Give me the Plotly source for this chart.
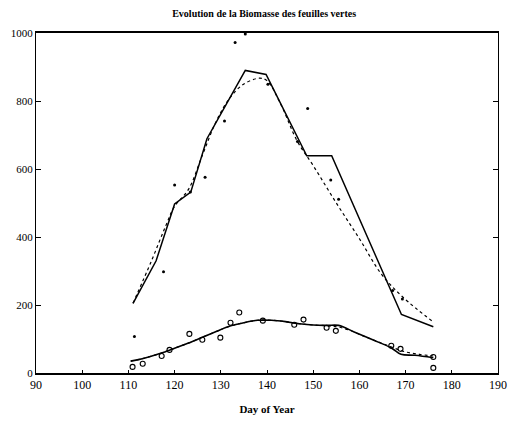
import plotly.graph_objects as go

# Upper series (green leaf biomass, large values)
up_line_day = [111, 116, 120, 123.5, 127, 135.3, 139.8, 148.6, 154, 169.1, 176]
up_line_val = [205, 330, 497, 532, 689, 890, 878, 639, 639, 172, 136]

up_smooth_day = [111, 115, 118, 120, 123, 126, 129, 132, 135, 138.3, 140, 143, 146.5, 150, 155, 160, 164.8, 169.5, 176]
up_smooth_val = [205, 330, 430, 490, 540, 640, 740, 810, 850, 867, 860, 790, 683, 610, 500, 395, 290, 222, 150]

up_obs_day = [111.3, 117.6, 120, 123.4, 126.6, 130.8, 133.1, 135.3, 140.2, 146.6, 148.8, 153.8, 155.5, 167.2, 169.3]
up_obs_val = [107, 298, 553, 532, 576, 741, 972, 997, 849, 681, 778, 568, 511, 243, 218]

# Lower series
low_line_day = [110.5, 113, 117, 120, 123, 126, 129, 132, 135, 138, 141, 144, 147, 150, 153, 155.5, 159, 163, 167, 169, 172, 176]
low_line_val = [35, 42, 58, 73, 88, 105, 122, 138, 148, 155, 155, 151, 145, 141, 140, 140, 120, 97, 73, 55, 52, 45]

low_smooth_day = [110.5, 113, 117, 120, 123, 126, 129, 132, 135, 138, 141, 144, 147, 150, 153, 155.5, 158, 161, 164, 167, 170, 173, 176]
low_smooth_val = [35, 42, 58, 73, 88, 105, 122, 138, 148, 155, 155, 151, 145, 141, 139, 135, 125, 108, 92, 76, 62, 55, 50]

low_obs_day = [110.9, 113.1, 117.2, 118.9, 123.2, 126, 129.9, 132.1, 134, 139.1, 145.9, 147.9, 152.9, 154.9, 166.9, 168.9, 176, 176]
low_obs_val = [18, 27, 50, 68, 115, 98, 104, 148, 178, 154, 142, 157, 133, 124, 80, 71, 47, 15]

x_ticks = [90, 100, 110, 120, 130, 140, 150, 160, 170, 180, 190]
y_ticks = [0, 200, 400, 600, 800, 1000]

FONT = "Liberation Serif"

fig = go.Figure()
fig.add_trace(go.Scatter(x=up_smooth_day, y=up_smooth_val, mode="lines",
                         line=dict(color="black", width=1.2, dash="dot", shape="spline")))
fig.add_trace(go.Scatter(x=up_line_day, y=up_line_val, mode="lines",
                         line=dict(color="black", width=1.5)))
fig.add_trace(go.Scatter(x=up_obs_day, y=up_obs_val, mode="markers",
                         marker=dict(color="black", size=3)))
fig.add_trace(go.Scatter(x=low_smooth_day, y=low_smooth_val, mode="lines",
                         line=dict(color="black", width=1.2, dash="dot", shape="spline")))
fig.add_trace(go.Scatter(x=low_line_day, y=low_line_val, mode="lines",
                         line=dict(color="black", width=1.6, shape="spline")))
fig.add_trace(go.Scatter(x=low_obs_day, y=low_obs_val, mode="markers",
                         marker=dict(color="black", size=5, symbol="circle-open",
                                     line=dict(color="black", width=1.1))))

fig.update_layout(
    width=508, height=421,
    margin=dict(l=36, r=10, t=33, b=48),
    paper_bgcolor="white", plot_bgcolor="white",
    showlegend=False,
    font=dict(family=FONT, color="black", size=11),
    title=dict(text="<b>Evolution de la Biomasse des feuilles vertes</b>",
               x=0.52, xanchor="center", y=0.968, yanchor="middle",
               font=dict(family=FONT, size=10, color="black")),
    xaxis=dict(range=[90, 190], tickvals=x_ticks, showgrid=False, zeroline=False,
               showline=True, linecolor="black", linewidth=1.8, mirror=True,
               ticks="inside", ticklen=3, tickcolor="black", automargin=False,
               ticklabeloverflow="allow",
               tickfont=dict(family=FONT, size=12, color="black"),
               title=dict(text="<b>Day of Year</b>", standoff=14,
                          font=dict(family=FONT, size=11, color="black"))),
    yaxis=dict(range=[0, 1000], tickvals=y_ticks, showgrid=False, zeroline=False,
               showline=True, linecolor="black", linewidth=1, mirror="ticks",
               ticks="inside", ticklen=5, tickcolor="black", automargin=False,
               ticklabeloverflow="allow",
               tickfont=dict(family=FONT, size=11, color="black")),
)

fig.write_html("out.html", config={"displayModeBar": False},
               post_script="document.body.style.margin='0';")
